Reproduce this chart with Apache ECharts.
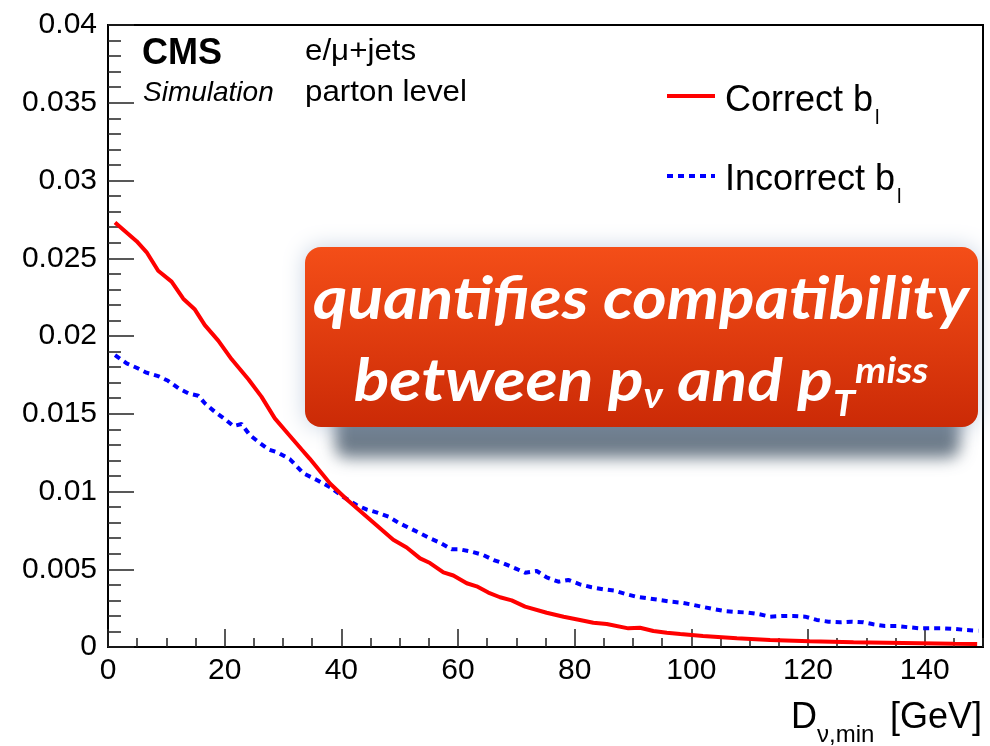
<!DOCTYPE html>
<html><head><meta charset="utf-8">
<script src="https://cdn.jsdelivr.net/npm/echarts@6/dist/echarts.min.js"></script>
<style>html,body{margin:0;padding:0;background:#fff}#c{width:990px;height:746px}</style>
</head><body><div id="c"></div>
<script>
// ---- data ----
const correctX = [1.2,4.9,6.6,8.6,10.9,12.9,14.9,16.6,18.9,21.2,24.1,26.3,28.6,30.9,33.2,34.6,38.1,40.9,44.9,48.9,51.2,53.5,55.2,57.5,59.2,61.5,63.2,65.2,67.2,69.2,71.5,75.2,78.1,80.9,83.2,85.5,89.2,91.2,93.5,95.8,98.1,102,107.8,113.5,120.3,127.8,136.3,144.9,149];
const correctY = [0.0273,0.0261,0.0254,0.0242,0.0235,0.0224,0.0217,0.0207,0.0197,0.0185,0.0172,0.0161,0.0147,0.0137,0.0127,0.0121,0.0105,0.0095,0.0082,0.0069,0.0064,0.0057,0.0054,0.0048,0.0046,0.0041,0.0039,0.0035,0.0032,0.0030,0.0026,0.0022,0.00195,0.00174,0.00156,0.00148,0.0012,0.00124,0.00103,0.00092,0.00084,0.00071,0.00056,0.00045,0.00037,0.0003,0.00026,0.00021,0.00019];
const incorrectX = [1.2,3.2,4.9,6.6,8.6,10.3,12.1,13.8,15.5,16.6,18.3,20.1,21.5,22.9,24.3,26.1,27.5,29.2,31.2,33.5,35.8,38.1,40.3,42.6,44.3,46.3,48.1,49.8,51.8,53.5,55.2,56.9,58.9,60.3,62.3,64.3,66.1,67.8,69.8,71.5,73.5,75.2,77.2,78.9,80.9,82.9,84.9,86.9,88.9,90.6,92.6,94.6,96.6,98.3,99.8,101.8,103.8,105.8,107.8,109.8,111.5,113.5,115.5,117.5,119.5,121.5,123.5,125.5,127.5,129.5,131.2,133.2,135.2,137.2,139.2,141.2,143.2,145.2,147.2,149.2];
const incorrectY = [0.01877,0.01824,0.01796,0.01764,0.01742,0.01712,0.01663,0.01631,0.01616,0.01567,0.01513,0.01464,0.01421,0.01434,0.01363,0.0131,0.01271,0.01249,0.01207,0.01117,0.01074,0.01027,0.00966,0.00913,0.00885,0.00863,0.00838,0.00799,0.00763,0.00731,0.00699,0.00671,0.00628,0.00628,0.00613,0.00592,0.00559,0.00538,0.00506,0.00478,0.00489,0.00448,0.0042,0.00431,0.00403,0.00384,0.00371,0.00362,0.00339,0.00323,0.00313,0.00302,0.00291,0.00285,0.00275,0.00259,0.00244,0.00231,0.00225,0.00221,0.00212,0.00195,0.00199,0.00199,0.00195,0.00174,0.00163,0.00159,0.00163,0.00159,0.00146,0.00135,0.00135,0.00127,0.0012,0.0012,0.0012,0.00116,0.00109,0.00105];
const xMajorTicks = [0,20,40,60,80,100,120,140];
const seriesNames = ['Correct b', 'Incorrect b'];

// ---- helpers ----
const mctx = document.createElement('canvas').getContext('2d');
function tw(text, font){ mctx.font = font; return mctx.measureText(text).width; }
const SANS = '"Liberation Sans", Arial, Helvetica, sans-serif';
const BOX = 'Lato, "Open Sans", sans-serif';

function txt(x, y, text, size, opts) {
  opts = opts || {};
  return {
    type: 'text', x: x, y: y, z: 20, scaleX: opts.sx || 1,
    style: {
      text: text, fill: opts.fill || '#000',
      fontSize: size, fontFamily: opts.family || SANS,
      fontWeight: opts.weight || 'normal', fontStyle: opts.style || 'normal',
      align: opts.align || 'left', verticalAlign: 'middle',
      textAlign: opts.align || 'left', textVerticalAlign: 'middle'
    }
  };
}

// legend text widths
const legFont = '36px ' + SANS;
const wCorrect = tw(seriesNames[0], legFont);
const wIncorrect = tw(seriesNames[1], legFont);

// callout
const S = 60, s2 = 36;
const bFont = 'italic bold ' + S + 'px ' + BOX;
const sFont = 'italic bold ' + s2 + 'px ' + BOX;
const line1 = 'quantifies compatibility';
const k = 656 / tw(line1, bFont);
const p1 = 'between p', p2 = '\u03BD', p3 = ' and p', p4 = 'T', p5 = 'miss';
const w1 = k * tw(p1, bFont), w2 = k * tw(p2, sFont), w3 = k * tw(p3, bFont), w4 = k * tw(p4, sFont), w5 = k * tw(p5, sFont);
const total2 = w1 + w2 + w3 + w4 + w5;
const cx = 641;
const x0 = cx - total2 / 2;
const mid = 0.387;
const boxOpts = {fill: '#fff', family: BOX, weight: 'bold', style: 'italic', sx: k};

// x-axis title
const dFont = '36px ' + SANS;
const wD = tw('D', dFont);

const chart = echarts.init(document.getElementById('c'), null, {renderer: 'canvas'});
chart.setOption({
  animation: false,
  backgroundColor: '#fff',
  grid: {left: 108, right: 7, top: 25, bottom: 99, show: true, borderColor: '#000', borderWidth: 2, backgroundColor: 'transparent'},
  xAxis: [{
    type: 'value', min: 0, max: 150, interval: 20, position: 'bottom',
    axisLine: {show: true, onZero: false, lineStyle: {color: '#000', width: 2}},
    axisTick: {show: true, inside: true, length: 18, lineStyle: {color: '#222', width: 1.5}, customValues: xMajorTicks},
    axisLabel: {show: true, margin: 9, fontSize: 30, color: '#000', fontFamily: SANS, customValues: xMajorTicks,
      formatter: v => (v > 145 ? '' : String(v))},
    splitLine: {show: false}
  }, {
    type: 'value', min: 0, max: 150, interval: 5, position: 'bottom',
    axisLine: {show: false},
    axisTick: {show: true, inside: true, length: 9, lineStyle: {color: '#222', width: 1.5}},
    axisLabel: {show: false},
    splitLine: {show: false}
  }],
  yAxis: {
    type: 'value', min: 0, max: 0.04, interval: 0.005,
    axisLine: {show: true, onZero: false, lineStyle: {color: '#000', width: 2}},
    axisTick: {show: true, inside: true, length: 26, lineStyle: {color: '#222', width: 1.5}},
    minorTick: {show: true, splitNumber: 5, length: 13, lineStyle: {color: '#222', width: 1.5}},
    axisLabel: {show: true, margin: 11, fontSize: 30, color: '#000', fontFamily: SANS},
    splitLine: {show: false}
  },
  series: [{
    name: seriesNames[0], type: 'line', xAxisIndex: 0, yAxisIndex: 0, z: 4,
    data: correctX.map((x, i) => [x, correctY[i]]),
    showSymbol: false, symbol: 'none',
    lineStyle: {color: '#ff0000', width: 4}
  }, {
    name: seriesNames[1], type: 'line', xAxisIndex: 0, yAxisIndex: 0, z: 3,
    data: incorrectX.map((x, i) => [x, incorrectY[i]]),
    showSymbol: false, symbol: 'none',
    lineStyle: {color: '#0000ff', width: 4, type: [6, 5]}
  }],
  graphic: {elements: [
    // callout shadow (offscreen shape, only its shadow shows)
    {type: 'rect', z: 10, shape: {x: 335, y: 400 - 3000, width: 625, height: 58, r: 12},
      style: {fill: '#000', shadowColor: 'rgba(72,90,108,0.8)', shadowBlur: 16, shadowOffsetY: 3000}},
    // callout box
    {type: 'rect', z: 11, shape: {x: 305, y: 247, width: 673, height: 180, r: 16},
      style: {
        fill: new echarts.graphic.LinearGradient(0, 0, 0, 1, [{offset: 0, color: '#f44e18'}, {offset: 1, color: '#cb2a06'}]),
        shadowColor: 'rgba(130,155,190,0.45)', shadowBlur: 22
      }},
    txt(cx, 323 - mid * S, line1, S, Object.assign({}, boxOpts, {align: 'center'})),
    txt(x0, 405 - mid * S, p1, S, boxOpts),
    txt(x0 + w1, 410 - mid * s2, p2, s2, boxOpts),
    txt(x0 + w1 + w2, 405 - mid * S, p3, S, boxOpts),
    txt(x0 + w1 + w2 + w3, 418 - mid * s2, p4, s2, boxOpts),
    txt(x0 + w1 + w2 + w3 + w4, 385 - mid * s2, p5, s2, boxOpts),
    // CMS labels
    txt(142, 54, 'CMS', 36, {weight: 'bold'}),
    txt(143, 93, 'Simulation', 28, {style: 'italic'}),
    txt(305, 52, 'e/\u03BC+jets', 29, {sx: 1.08}),
    txt(305, 93, 'parton level', 29, {sx: 1.08}),
    // legend
    {type: 'line', z: 20, shape: {x1: 667, y1: 96, x2: 715, y2: 96}, style: {stroke: '#ff0000', lineWidth: 4}},
    {type: 'line', z: 20, shape: {x1: 667, y1: 176, x2: 715, y2: 176}, style: {stroke: '#0000ff', lineWidth: 4, lineDash: [6, 5]}},
    txt(725, 101, seriesNames[0], 36),
    txt(725 + wCorrect + 2, 118, 'l', 20),
    txt(725, 180, seriesNames[1], 36),
    txt(725 + wIncorrect + 2, 197, 'l', 20),
    // x-axis title
    txt(791, 718, 'D', 36),
    txt(791 + wD, 735, '\u03BD,min', 24),
    txt(982, 718, '[GeV]', 36, {align: 'right'})
  ]}
});
</script>
</body></html>
